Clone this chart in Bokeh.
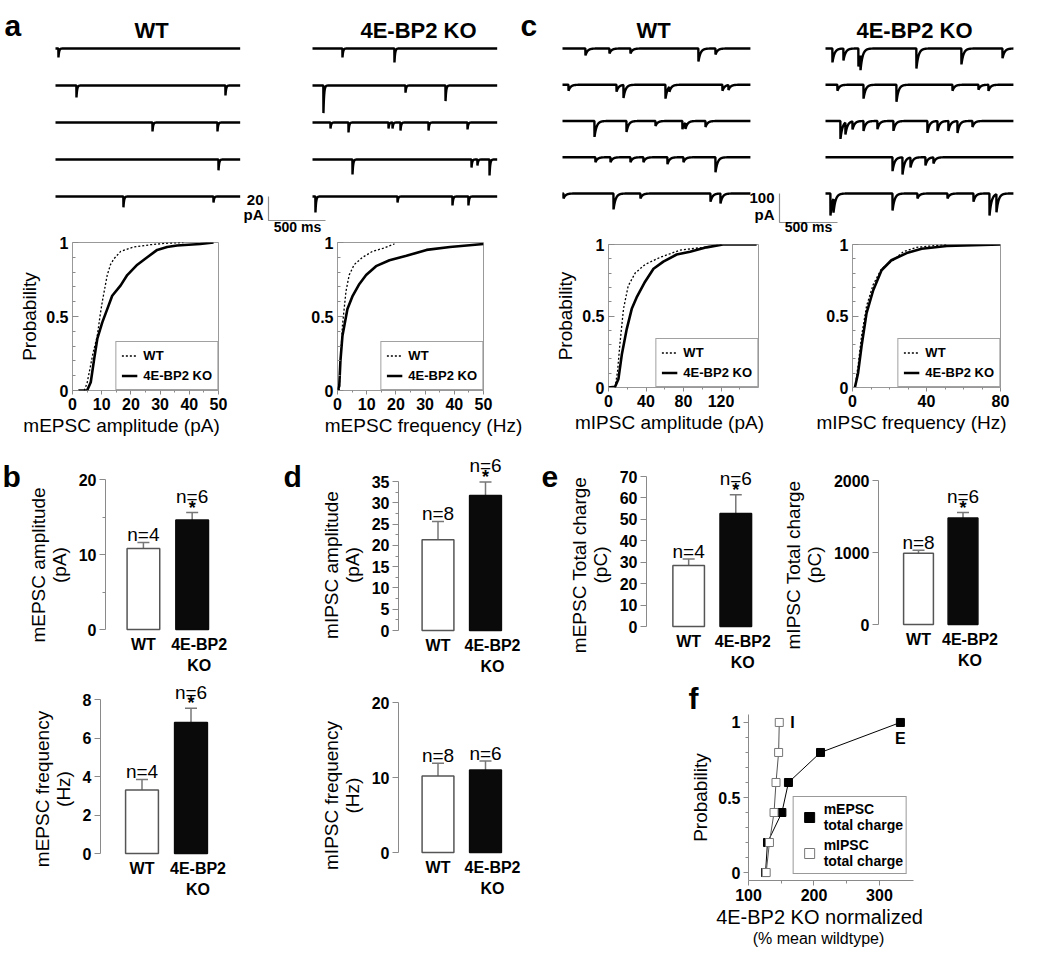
import numpy as np
from bokeh.plotting import figure
from bokeh.layouts import row, column
from bokeh.models import (Range1d, Label, Legend, LegendItem, FixedTicker,
                          Whisker, TeeHead, ColumnDataSource, Title)
from bokeh.embed import file_html
from bokeh.resources import INLINE
from bokeh.core.properties import value

# ======================= DATA =======================
conditions = ["WT", "4E-BP2 KO"]

# panel a: example mEPSC sweeps -> event times (ms) and amplitudes (pA), 5 sweeps
a_wt_t = [[26], [184, 1491], [851, 1421], [1430], [596, 1386]]
a_wt_amp = [[7.5], [10, 8.3], [7.5, 7.5], [9], [9, 5]]
a_ko_t = [[263, 719], [96, 816, 1167], [158, 316, 667, 702, 772, 1018, 1360],
          [351, 1395, 1447, 1553], [26, 746, 1228, 1368]]
a_ko_amp = [[7.5, 11.7], [23, 6, 13], [5, 8.3, 5, 5, 6.7, 6.7, 5.8],
            [12.5, 6.7, 5, 13.3], [13.3, 5, 7.5, 7.5]]

# panel c: example mIPSC sweeps
c_wt_t = [[198, 405, 586, 1172, 1319], [52, 466, 526, 888, 922, 1379, 1431],
          [276, 552, 802, 1034, 1060, 1233], [284, 414, 586, 698, 905, 1043, 1319],
          [9, 440, 672, 1276, 1362]]
c_wt_amp = [[24, 17, 17, 45, 21], [21, 24, 45, 48, 17, 21, 17],
            [55, 38, 17, 28, 21, 21], [17, 17, 17, 17, 24, 17, 52],
            [17, 55, 17, 28, 34]]
c_ko_t = [[60, 155, 284, 302, 784, 1172, 1526], [103, 328, 612, 1095, 1319, 1405],
          [129, 172, 233, 328, 448, 586, 879, 966, 1060, 1138, 1267],
          [578, 664, 733, 862, 931], [43, 69, 578, 793, 1052, 1276, 1414, 1474]]
c_ko_amp = [[48, 41, 62, 52, 69, 55, 34], [21, 48, 59, 21, 17, 21],
            [62, 41, 28, 34, 28, 34, 41, 34, 34, 41, 21],
            [48, 59, 34, 28, 21], [76, 48, 59, 17, 17, 28, 76, 62]]

sweep_ms = 1620
a_scale_pA, c_scale_pA, scale_ms = 20, 100, 500

# cumulative probability curves
a_amp_wt_x = [4, 5, 5.7, 7, 8.5, 9.4, 10.2, 11.9, 13, 14.2, 16.5, 21, 26.7, 32, 38]
a_amp_wt_y = [0, 0.05, 0.12, 0.25, 0.37, 0.5, 0.6, 0.78, 0.85, 0.89, 0.94, 0.97, 0.985, 0.995, 1.0]
a_amp_ko_x = [2, 5, 6.25, 7.4, 8.5, 10.2, 11.9, 13.6, 16.5, 18.75, 22.2, 25.6, 29, 32.4, 35.8, 43.75, 48.3]
a_amp_ko_y = [0, 0, 0.056, 0.21, 0.35, 0.46, 0.55, 0.64, 0.71, 0.78, 0.85, 0.9, 0.95, 0.97, 0.98, 0.99, 1.0]

a_freq_wt_x = [0.6, 1.0, 1.7, 2.9, 4, 5.7, 8.6, 12, 15.5, 19.5]
a_freq_wt_y = [0, 0.2, 0.44, 0.67, 0.78, 0.85, 0.9, 0.94, 0.96, 0.99]
a_freq_ko_x = [0, 0.6, 1.0, 1.7, 3.4, 5.2, 7.5, 9.8, 13.2, 17.8, 23.6, 30.5, 38.5, 50]
a_freq_ko_y = [0, 0.03, 0.2, 0.37, 0.55, 0.64, 0.72, 0.78, 0.84, 0.88, 0.91, 0.95, 0.97, 0.99]

c_amp_wt_x = [7, 9.6, 12.4, 16, 21, 28.4, 39, 55, 76, 101, 122]
c_amp_wt_y = [0, 0.11, 0.32, 0.55, 0.71, 0.8, 0.86, 0.91, 0.96, 0.98, 1.0]
c_amp_ko_x = [0, 7, 10.6, 14.2, 19.5, 24.8, 30, 39, 48, 58.5, 72.7, 87, 104.6, 122, 158]
c_amp_ko_y = [0, 0.005, 0.06, 0.23, 0.41, 0.55, 0.63, 0.74, 0.83, 0.88, 0.93, 0.95, 0.98, 1.0, 1.0]

c_freq_wt_x = [1.3, 3, 4.9, 7.6, 11.2, 15.7, 22, 27.5, 34.7, 51]
c_freq_wt_y = [0, 0.15, 0.36, 0.57, 0.72, 0.83, 0.89, 0.95, 0.98, 1.0]
c_freq_ko_x = [1.3, 3, 4.9, 7.6, 11.2, 15.7, 21, 29.3, 37.4, 51, 80]
c_freq_ko_y = [0, 0.1, 0.29, 0.52, 0.68, 0.82, 0.89, 0.94, 0.97, 0.99, 1.0]

# bar charts (mean, sem, n, significance)
mepsc_amp_mean, mepsc_amp_sem = [10.8, 14.6], [0.8, 1.0]
mepsc_freq_mean, mepsc_freq_sem = [3.3, 6.8], [0.55, 0.75]
mipsc_amp_mean, mipsc_amp_sem = [21.3, 31.7], [4.3, 3.2]
mipsc_freq_mean, mipsc_freq_sem = [10.2, 11.0], [1.7, 1.2]
mepsc_charge_mean, mepsc_charge_sem = [28.5, 52.7], [3.0, 8.8]
mipsc_charge_mean, mipsc_charge_sem = [990, 1480], [40, 75]
n_epsc = [4, 6]
n_ipsc = [8, 6]
sig_yes = ["", "*"]
sig_no = ["", ""]

# panel f
f_prob = [0, 0.2, 0.4, 0.6, 0.8, 1.0]
f_mepsc_charge = [126, 129, 151, 161, 210, 332]
f_mipsc_charge = [127, 132, 139, 142, 146, 147]

# ======================= HELPERS =======================
FONT = "Liberation Sans"
GEO = {}
AX = "#8a8a8a"

# Arial/Liberation Sans advance widths (1/1000 em), used to place centred titles
AW = dict(zip("abcdefghijklmnopqrstuvwxyz",
              [556, 556, 500, 556, 556, 278, 556, 556, 222, 222, 500, 222, 833,
               556, 556, 556, 556, 333, 500, 278, 556, 500, 722, 500, 500, 500]))
AW.update({"A": 667, "B": 667, "C": 722, "E": 667, "H": 722, "I": 278, "K": 667,
           "O": 778, "P": 667, "S": 667, "T": 611, "W": 944, " ": 278, "(": 333,
           ")": 333, "%": 889, "-": 333})
AW.update({d: 556 for d in "0123456789"})


def text_w(s, size):
    return sum(AW.get(ch, 556) for ch in s) * size / 1000.0


def fig_at(box, frame, xr, yr, **kw):
    x0, y0, x1, y1 = box
    fx0, fy0, fx1, fy1 = frame
    p = figure(width=x1 - x0, height=y1 - y0,
               x_range=Range1d(*xr), y_range=Range1d(*yr),
               output_backend="svg", toolbar_location=None,
               min_border_left=fx0 - x0, min_border_right=x1 - fx1,
               min_border_top=fy0 - y0, min_border_bottom=y1 - fy1, **kw)
    p.grid.visible = False
    p.outline_line_color = None
    p.background_fill_color = "white"
    p.border_fill_color = "white"
    GEO[p.id] = (frame, xr, yr)
    return p


def to_data(p, px, py):
    (fx0, fy0, fx1, fy1), (xs, xe), (ys, ye) = GEO[p.id]
    x = xs + (px - fx0) / (fx1 - fx0) * (xe - xs)
    y = ys + (fy1 - py) / (fy1 - fy0) * (ye - ys)
    return x, y


def label(p, px, py, text, size, bold=False, align="center", baseline="middle"):
    x, y = to_data(p, px, py)
    p.add_layout(Label(x=x, y=y, text=text, text_font=FONT,
                       text_font_size=f"{size}px",
                       text_font_style="bold" if bold else "normal",
                       text_align=align, text_baseline=baseline,
                       text_color="black"))


def strip(box, letter_px, letter_py, letter):
    p = fig_at(box, box, (0, 1), (0, 1), x_axis_location=None, y_axis_location=None)
    label(p, letter_px, letter_py, letter, 30, bold=True, align="left", baseline="alphabetic")
    return p


def side_title(p, side, text, size, center_px=None, left_px=None, bold=False):
    (fx0, fy0, fx1, fy1), _, _ = GEO[p.id]
    if left_px is None:
        left_px = center_px - text_w(text, size) / 2
    p.add_layout(Title(text=text, align="left", offset=left_px - fx0,
                       text_font=FONT, text_font_size=f"{size}px",
                       text_font_style="bold" if bold else "normal",
                       text_color="black", standoff=0), side)


def style_axis(ax, tick_size="16px"):
    ax.axis_line_color = AX
    ax.major_tick_line_color = AX
    ax.minor_tick_line_color = AX
    ax.major_label_text_font = FONT
    ax.major_label_text_font_style = "bold"
    ax.major_label_text_font_size = tick_size
    ax.major_label_text_color = "black"
    ax.axis_label_text_font = FONT
    ax.axis_label_text_font_style = "normal"
    ax.axis_label_text_font_size = "19px"
    ax.axis_label_text_color = "black"
    ax.axis_label_text_line_height = 1.0


def sweep(ts, amps, tau):
    t = np.arange(0, sweep_ms + 1, 1.0)
    y = np.zeros_like(t)
    for t0, a in zip(ts, amps):
        m = t >= t0
        y[m] -= a * np.exp(-(t[m] - t0) / tau)
    return t, y


def trace_panel(box, t0_px, ko_px, kx, row0_py, row_dy, ky, wt_t, wt_a, ko_t, ko_a,
                tau, sb_px, sb_pA, sb_labels, titles):
    x0, y0, x1, y1 = box
    xr = ((x0 - t0_px) / kx, (x1 - t0_px) / kx)
    yr = ((row0_py - y1) / ky, (row0_py - y0) / ky)
    p = fig_at(box, box, xr, yr, x_axis_location=None, y_axis_location=None)
    step = row_dy / ky
    ko_off = (ko_px - t0_px) / kx
    for i in range(5):
        t, y = sweep(wt_t[i], wt_a[i], tau)
        p.line(t, y - i * step, color="black", line_width=2.4)
        t, y = sweep(ko_t[i], ko_a[i], tau)
        p.line(t + ko_off, y - i * step, color="black", line_width=2.4)
    sbx = (sb_px - t0_px) / kx
    top = -4 * step
    p.line([sbx, sbx, sbx + scale_ms], [top, top - sb_pA, top - sb_pA],
           color="#909090", line_width=1.2)
    for (px, py, txt, sz, al) in sb_labels:
        label(p, px, py, txt, sz, bold=True, align=al)
    for (px, py, txt, sz, al) in titles:
        label(p, px, py, txt, sz, bold=True, align=al, baseline="alphabetic")
    return p


def cum_panel(box, frame, xmax, xticks, xminor, wt, ko, xlabel, xlabel_cx, ylabel=None):
    p = fig_at(box, frame, (0, xmax), (0, 1))
    p.outline_line_color = "#999999"
    style_axis(p.xaxis[0])
    style_axis(p.yaxis[0])
    p.xaxis.axis_line_color = None
    p.yaxis.axis_line_color = None
    p.xaxis.ticker = FixedTicker(ticks=xticks, minor_ticks=xminor)
    p.xaxis.major_tick_in = 0
    p.xaxis.major_tick_out = 4
    p.xaxis.minor_tick_in = 0
    p.xaxis.minor_tick_out = 2
    p.xaxis.major_label_standoff = 3
    p.yaxis.ticker = FixedTicker(ticks=[0, 0.5, 1],
                                 minor_ticks=[0.1, 0.2, 0.3, 0.4, 0.6, 0.7, 0.8, 0.9])
    p.yaxis.major_label_overrides = {0: "0", 0.5: "0.5", 1: "1"}
    p.yaxis.major_tick_in = 6
    p.yaxis.major_tick_out = 0
    p.yaxis.minor_tick_in = 3
    p.yaxis.minor_tick_out = 0
    p.yaxis.major_label_standoff = 4
    if ylabel:
        p.yaxis.axis_label = ylabel
        p.yaxis.axis_label_standoff = 3
    r1 = p.line(wt[0], wt[1], color="black", line_width=1.3, line_dash="2 2")
    r2 = p.line(ko[0], ko[1], color="black", line_width=2.6)
    leg = Legend(items=[LegendItem(label=conditions[0], renderers=[r1]),
                        LegendItem(label=conditions[1], renderers=[r2])],
                 location="bottom_right", margin=0, padding=5, spacing=3,
                 glyph_width=16, glyph_height=17, label_standoff=6, label_height=17,
                 label_text_font=FONT, label_text_font_style="bold",
                 label_text_font_size="13px", label_text_color="black",
                 border_line_color="#444444", border_line_width=1,
                 background_fill_color="white", background_fill_alpha=1)
    p.add_layout(leg)
    side_title(p, "below", xlabel, 19, center_px=xlabel_cx)
    return p


def bar_panel(box, frame, wt_cx, ko_cx, zero_y, k, means, sems, ns, sig,
              yticks, yminor, ylabel):
    fx0, fy0, fx1, fy1 = frame
    unit = ko_cx - wt_cx
    xs = 1 - (wt_cx - fx0) / unit
    xe = xs + (fx1 - fx0) / unit
    ys = (zero_y - fy1) / k
    ye = (zero_y - fy0) / k
    p = fig_at(box, frame, (xs, xe), (ys, ye), x_axis_location=None)
    xpos = [i + 1 for i in range(len(conditions))]
    up = [m + s for m, s in zip(means, sems)]
    src = ColumnDataSource(dict(x=xpos, top=means, up=up,
                                fill=["white", "#0a0a0a"], line=["#555555", "#0a0a0a"]))
    p.vbar(x="x", top="top", bottom=0, width=0.67, fill_color="fill",
           line_color="line", line_width=1.5, source=src)
    p.add_layout(Whisker(base="x", upper="up", lower="top", source=src,
                         line_color="#777777", line_width=1.5, lower_head=None,
                         upper_head=TeeHead(size=12, line_color="#777777", line_width=1.5)))
    for xi, u, n, s in zip(xpos, up, ns, sig):
        p.text(x=[xi], y=[u], text=[f"n={n}"], y_offset=-16 if s else -8,
               text_align="center", text_baseline="alphabetic",
               text_font=value(FONT), text_font_size="19px", text_color="black")
        if s:
            p.text(x=[xi], y=[u], text=[s], y_offset=-5, text_align="center",
                   text_baseline="alphabetic", text_font=value(FONT),
                   text_font_size="18px", text_font_style="bold", text_color="black")
    # category names under the bars
    for i, (xi, c) in enumerate(zip(xpos, conditions)):
        p.text(x=[xi], y=[0], text=[c.replace(" ", "\n")], x_offset=7 if i else 0,
               y_offset=6, text_align="center", text_baseline="top",
               text_line_height=1.25, text_font=value(FONT), text_font_size="16px",
               text_font_style="bold", text_color="black")
    style_axis(p.yaxis[0])
    p.yaxis.ticker = FixedTicker(ticks=yticks, minor_ticks=yminor)
    p.yaxis.bounds = (0, yticks[-1])
    p.yaxis.major_tick_out = 6
    p.yaxis.major_tick_in = 0
    p.yaxis.minor_tick_out = 3
    p.yaxis.minor_tick_in = 0
    p.yaxis.major_label_standoff = 3
    p.yaxis.axis_label = ylabel
    p.yaxis.axis_label_standoff = 6
    return p


# ======================= BAND 1: traces =======================
TA = trace_panel((0, 0, 510, 235), 55, 312, 0.114, 48, 37, 1.2,
                 a_wt_t, a_wt_amp, a_ko_t, a_ko_amp, 6, 268, a_scale_pA,
                 [(263, 199, "20", 15, "right"), (263, 214, "pA", 15, "right"),
                  (297, 226, "500 ms", 14, "center")],
                 [(4, 25, "a", 30, "left"), (151, 30, "WT", 22, "center"),
                  (418, 30, "4E-BP2 KO", 22, "center")])
TC = trace_panel((510, 0, 1042, 235), 562, 825, 0.116, 48, 36.25, 0.29,
                 c_wt_t, c_wt_amp, c_ko_t, c_ko_amp, 18, 779, c_scale_pA,
                 [(774, 197, "100", 15, "right"), (774, 214, "pA", 15, "right"),
                  (808, 226, "500 ms", 14, "center")],
                 [(520, 25, "c", 30, "left"), (653, 30, "WT", 22, "center"),
                  (914, 30, "4E-BP2 KO", 22, "center")])

# ======================= BAND 2: cumulative =======================
CA1 = cum_panel((0, 235, 270, 450), (72, 242, 218, 390), 50,
                [0, 10, 20, 30, 40, 50], [5, 15, 25, 35, 45],
                (a_amp_wt_x, a_amp_wt_y), (a_amp_ko_x, a_amp_ko_y),
                "mEPSC amplitude (pA)", 121, "Probability")
CA2 = cum_panel((270, 235, 540, 450), (337, 242, 483, 390), 50,
                [0, 10, 20, 30, 40, 50], [5, 15, 25, 35, 45],
                (a_freq_wt_x, a_freq_wt_y), (a_freq_ko_x, a_freq_ko_y),
                "mEPSC frequency (Hz)", 423)
CC1 = cum_panel((540, 235, 790, 450), (608, 244, 758, 387), 160,
                [0, 40, 80, 120], [20, 60, 100, 140],
                (c_amp_wt_x, c_amp_wt_y), (c_amp_ko_x, c_amp_ko_y),
                "mIPSC amplitude (pA)", 669, "Probability")
CC2 = cum_panel((790, 235, 1042, 450), (852, 244, 1000, 387), 80,
                [0, 40, 80], [10, 20, 30, 50, 60, 70],
                (c_freq_wt_x, c_freq_wt_y), (c_freq_ko_x, c_freq_ko_y),
                "mIPSC frequency (Hz)", 911)

# ======================= BAND 3: bar charts =======================
SB = strip((0, 450, 24, 677), 2, 476, "b")
BA = bar_panel((24, 450, 280, 677), (103, 452, 235, 677), 141.5, 191, 629, 7.5,
               mepsc_amp_mean, mepsc_amp_sem, n_epsc, sig_yes,
               [0, 10, 20], [5, 15], "mEPSC amplitude\n(pA)")
SD = strip((280, 450, 304, 677), 283, 476, "d")
DA = bar_panel((304, 450, 540, 677), (398, 452, 530, 677), 437.5, 485, 630, 149 / 35,
               mipsc_amp_mean, mipsc_amp_sem, n_ipsc, sig_yes,
               [0, 5, 10, 15, 20, 25, 30, 35], [2.5, 7.5, 12.5, 17.5, 22.5, 27.5, 32.5],
               "mIPSC amplitude\n(pA)")
SE = strip((540, 450, 565, 677), 541, 476, "e")
E1 = bar_panel((565, 450, 775, 677), (645, 452, 770, 677), 687.5, 735, 626, 150 / 70,
               mepsc_charge_mean, mepsc_charge_sem, n_epsc, sig_yes,
               [0, 10, 20, 30, 40, 50, 60, 70], [], "mEPSC Total charge\n(pC)")
E2 = bar_panel((775, 450, 1042, 677), (878, 452, 1000, 677), 918, 962.5, 624, 144 / 2000,
               mipsc_charge_mean, mipsc_charge_sem, n_ipsc, sig_yes,
               [0, 1000, 2000], [], "mIPSC Total charge\n(pC)")

# ======================= BAND 4 =======================
BF = bar_panel((0, 677, 280, 966), (100, 677, 235, 900), 141.5, 190.5, 853, 19.25,
               mepsc_freq_mean, mepsc_freq_sem, n_epsc, sig_yes,
               [0, 2, 4, 6, 8], [], "mEPSC frequency\n(Hz)")
DF = bar_panel((280, 677, 540, 966), (398, 690, 530, 900), 437.5, 485, 852, 7.5,
               mipsc_freq_mean, mipsc_freq_sem, n_ipsc, sig_no,
               [0, 10, 20], [], "mIPSC frequency\n(Hz)")

F = fig_at((540, 677, 1042, 966), (748, 714, 913, 880), (100, 352), (-0.053, 1.053))
style_axis(F.xaxis[0])
style_axis(F.yaxis[0])
F.xaxis.ticker = FixedTicker(ticks=[100, 200, 300], minor_ticks=[150, 250])
F.yaxis.ticker = FixedTicker(ticks=[0, 0.5, 1], minor_ticks=[0.1, 0.2, 0.3, 0.4, 0.6, 0.7, 0.8, 0.9])
F.yaxis.major_label_overrides = {0: "0", 0.5: "0.5", 1: "1"}
for ax in (F.xaxis[0], F.yaxis[0]):
    ax.major_tick_in = 0
    ax.major_tick_out = 5
    ax.minor_tick_in = 0
    ax.minor_tick_out = 3
    ax.major_label_standoff = 3
F.yaxis.axis_label = "Probability"
F.yaxis.axis_label_standoff = 4
F.line(f_mepsc_charge, f_prob, color="black", line_width=1)
sE = F.scatter(f_mepsc_charge, f_prob, marker="square", size=8, fill_color="black",
               line_color="black")
F.line(f_mipsc_charge, f_prob, color="#555555", line_width=1)
sI = F.scatter(f_mipsc_charge, f_prob, marker="square", size=8, fill_color="white",
               line_color="#777777")
F.text(x=[f_mipsc_charge[-1]], y=[f_prob[-1]], text=["I"], x_offset=11,
       text_align="left", text_baseline="middle", text_font=value(FONT),
       text_font_size="16px", text_font_style="bold", text_color="black")
F.text(x=[f_mepsc_charge[-1]], y=[f_prob[-1]], text=["E"], y_offset=16,
       text_align="center", text_baseline="middle", text_font=value(FONT),
       text_font_size="16px", text_font_style="bold", text_color="black")
F.add_layout(Legend(items=[LegendItem(label="mEPSC\ntotal charge", renderers=[sE]),
                           LegendItem(label="mIPSC\ntotal charge", renderers=[sI])],
                    location="bottom_right", margin=6, padding=3, spacing=2,
                    glyph_width=25, glyph_height=34, label_standoff=2,
                    label_text_font=FONT, label_text_font_style="bold",
                    label_text_font_size="14px", label_text_color="black",
                    border_line_color="#333333", border_line_width=1,
                    background_fill_color="white", background_fill_alpha=1))
side_title(F, "above", "f", 30, left_px=688, bold=True)
side_title(F, "below", "4E-BP2 KO normalized", 20, center_px=819)
side_title(F, "below", "(% mean wildtype)", 16, center_px=818)


def band(*figs):
    # each figure in its own column so that rows do not align their plot frames
    return row(*[column(f) for f in figs])


layout = column(band(TA, TC), band(CA1, CA2, CC1, CC2),
                band(SB, BA, SD, DA, SE, E1, E2),
                band(BF, DF, F))
open("out.html", "w").write(file_html(layout, INLINE))
